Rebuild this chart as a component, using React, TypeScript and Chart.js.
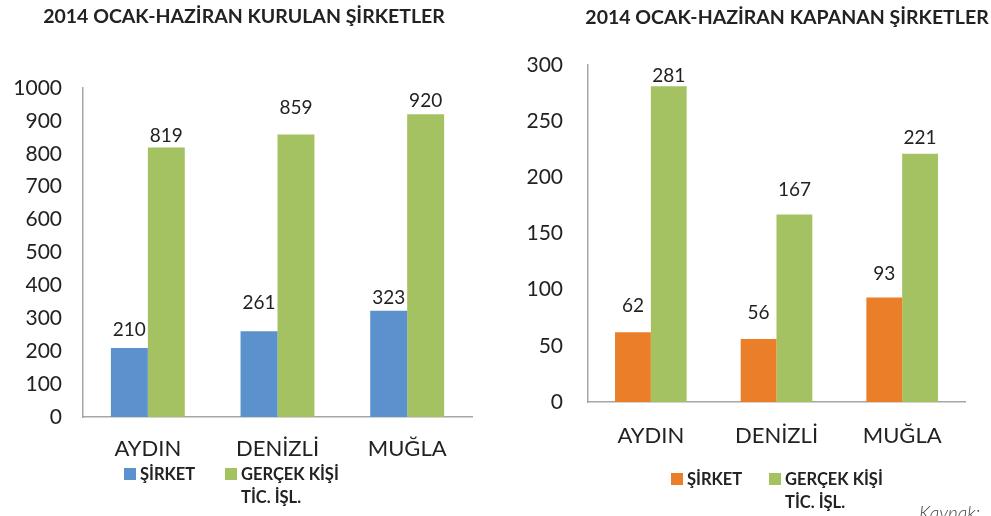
import React, { useEffect, useRef } from "react";
import { Chart, registerables } from "chart.js";

Chart.register(...registerables);

// ---------- data ----------
const CATEGORIES = ["AYDIN", "DENİZLİ", "MUĞLA"];
const SERIES_COMPANY = "ŞİRKET";
const SERIES_PERSON = ["GERÇEK KİŞİ", "TİC. İŞL."];

const OPENED_TITLE = "2014 OCAK-HAZİRAN KURULAN ŞİRKETLER";
const OPENED_COMPANY = [210, 261, 323];
const OPENED_PERSON = [819, 859, 920];
const OPENED_AXIS_MAX = 1000;
const OPENED_AXIS_STEP = 100;

const CLOSED_TITLE = "2014 OCAK-HAZİRAN KAPANAN ŞİRKETLER";
const CLOSED_COMPANY = [62, 56, 93];
const CLOSED_PERSON = [281, 167, 221];
const CLOSED_AXIS_MAX = 300;
const CLOSED_AXIS_STEP = 50;

const SOURCE_TEXT = "Kaynak:";

// ---------- styles ----------
const BLUE = "#5b91cc";
const GREEN = "#a4c262";
const ORANGE = "#eb7f29";
const TEXT = "#222222";
const AXIS = "#a6a6a6";
const FONT = "Lato, 'Open Sans', sans-serif";

type Panel = {
  width: number;
  height: number;
  area: { left: number; right: number; top: number; bottom: number };
  tickPad: number;
  tickSize: number;
  xPad: number;
  xSize: number;
  title: string;
  titleX: number;
  titleY: number;
  titleSize: number;
  legendY: number;
  legendX: [number, number];
  labelSize: number;
  labelGaps: number[][];
  colors: [string, string];
  company: number[];
  person: number[];
  max: number;
  step: number;
  source?: { x: number; y: number };
};

const decorPlugin = {
  id: "decor",
  afterDatasetsDraw(chart: any, _args: any, opts: any) {
    const ctx = chart.ctx as CanvasRenderingContext2D;
    ctx.save();
    ctx.fillStyle = TEXT;
    ctx.textAlign = "center";
    ctx.textBaseline = "alphabetic";
    ctx.font = `${opts.labelSize}px ${FONT}`;
    chart.data.datasets.forEach((ds: any, i: number) => {
      const meta = chart.getDatasetMeta(i);
      meta.data.forEach((bar: any, j: number) => {
        ctx.fillText(String(ds.data[j]), bar.x, bar.y - opts.labelGaps[i][j]);
      });
    });
    ctx.restore();
  },
  afterDraw(chart: any, _args: any, opts: any) {
    const ctx = chart.ctx as CanvasRenderingContext2D;
    ctx.save();
    // title
    ctx.fillStyle = TEXT;
    ctx.textAlign = "center";
    ctx.textBaseline = "middle";
    ctx.font = `bold ${opts.titleSize}px ${FONT}`;
    ctx.fillText(opts.title, opts.titleX, opts.titleY);
    // legend
    ctx.textAlign = "left";
    ctx.font = `bold 16.5px ${FONT}`;
    chart.data.datasets.forEach((ds: any, i: number) => {
      const x = opts.legendX[i];
      const y = opts.legendY;
      ctx.fillStyle = ds.backgroundColor;
      ctx.fillRect(x, y - 6, 12, 12);
      ctx.fillStyle = TEXT;
      const lines: string[] = Array.isArray(ds.label) ? ds.label : [ds.label];
      lines.forEach((line, k) => ctx.fillText(line, x + 16, y + 1 + k * 23));
    });
    // source
    if (opts.source) {
      ctx.fillStyle = "#444444";
      ctx.textBaseline = "alphabetic";
      ctx.font = `italic 300 19px ${FONT}`;
      ctx.fillText(SOURCE_TEXT, opts.source.x, opts.source.y);
    }
    ctx.restore();
  },
};

const LEFT: Panel = {
  width: 500,
  height: 516,
  area: { left: 83, right: 472, top: 88, bottom: 417 },
  tickPad: 21,
  tickSize: 21,
  xPad: 19,
  xSize: 22,
  title: OPENED_TITLE,
  titleX: 244,
  titleY: 17,
  titleSize: 19.5,
  legendY: 474,
  legendX: [124, 225],
  labelSize: 19,
  labelGaps: [
    [12, 22, 7],
    [6, 20, 7],
  ],
  colors: [BLUE, GREEN],
  company: OPENED_COMPANY,
  person: OPENED_PERSON,
  max: OPENED_AXIS_MAX,
  step: OPENED_AXIS_STEP,
};

const RIGHT: Panel = {
  width: 491,
  height: 516,
  area: { left: 88, right: 465, top: 65, bottom: 402 },
  tickPad: 25,
  tickSize: 21,
  xPad: 21,
  xSize: 22,
  title: CLOSED_TITLE,
  titleX: 287,
  titleY: 18,
  titleSize: 19.5,
  legendY: 479,
  legendX: [171, 269],
  labelSize: 19,
  labelGaps: [
    [20, 20, 18],
    [4, 18, 10],
  ],
  colors: [ORANGE, GREEN],
  company: CLOSED_COMPANY,
  person: CLOSED_PERSON,
  max: CLOSED_AXIS_MAX,
  step: CLOSED_AXIS_STEP,
  source: { x: 419, y: 520 },
};

function ChartPanel({ p, left }: { p: Panel; left: number }) {
  const ref = useRef<HTMLCanvasElement | null>(null);
  useEffect(() => {
    if (!ref.current) return;
    const xHeight = 60;
    const chart = new Chart(ref.current, {
      type: "bar",
      data: {
        labels: CATEGORIES,
        datasets: [
          { label: SERIES_COMPANY as any, data: p.company, backgroundColor: p.colors[0] },
          { label: SERIES_PERSON as any, data: p.person, backgroundColor: p.colors[1] },
        ],
      },
      plugins: [decorPlugin as any],
      options: {
        responsive: false,
        animation: false,
        devicePixelRatio: 1,
        layout: {
          padding: {
            left: 0,
            right: p.width - p.area.right,
            top: p.area.top,
            bottom: p.height - p.area.bottom - xHeight,
          },
        },
        datasets: { bar: { barPercentage: 1, categoryPercentage: 0.57 } },
        scales: {
          x: {
            grid: { display: false, drawTicks: false },
            border: { display: true, color: AXIS, width: 1.5 },
            ticks: { color: TEXT, padding: p.xPad, font: { family: FONT, size: p.xSize } },
            afterFit: (s: any) => {
              s.height = xHeight;
            },
          },
          y: {
            min: 0,
            max: p.max,
            grid: { display: false, drawTicks: false },
            border: { display: true, color: AXIS, width: 1.5 },
            ticks: {
              stepSize: p.step,
              color: TEXT,
              padding: p.tickPad,
              font: { family: FONT, size: p.tickSize },
              callback: (v: any) => String(v),
            },
            afterFit: (s: any) => {
              s.width = p.area.left;
            },
          },
        },
        plugins: {
          legend: { display: false },
          title: { display: false },
          tooltip: { enabled: false },
          decor: {
            title: p.title,
            titleX: p.titleX,
            titleY: p.titleY,
            titleSize: p.titleSize,
            legendX: p.legendX,
            legendY: p.legendY,
            labelSize: p.labelSize,
            labelGaps: p.labelGaps,
            source: p.source,
          },
        } as any,
      },
    });
    return () => chart.destroy();
  }, [p]);
  return (
    <canvas
      ref={ref}
      width={p.width}
      height={p.height}
      style={{ position: "absolute", left, top: 0, width: p.width, height: p.height }}
    />
  );
}

export default function App() {
  return (
    <div
      style={{
        position: "fixed",
        left: 0,
        top: 0,
        width: 991,
        height: 516,
        background: "#ffffff",
        overflow: "hidden",
      }}
    >
      <ChartPanel p={LEFT} left={0} />
      <ChartPanel p={RIGHT} left={500} />
    </div>
  );
}
